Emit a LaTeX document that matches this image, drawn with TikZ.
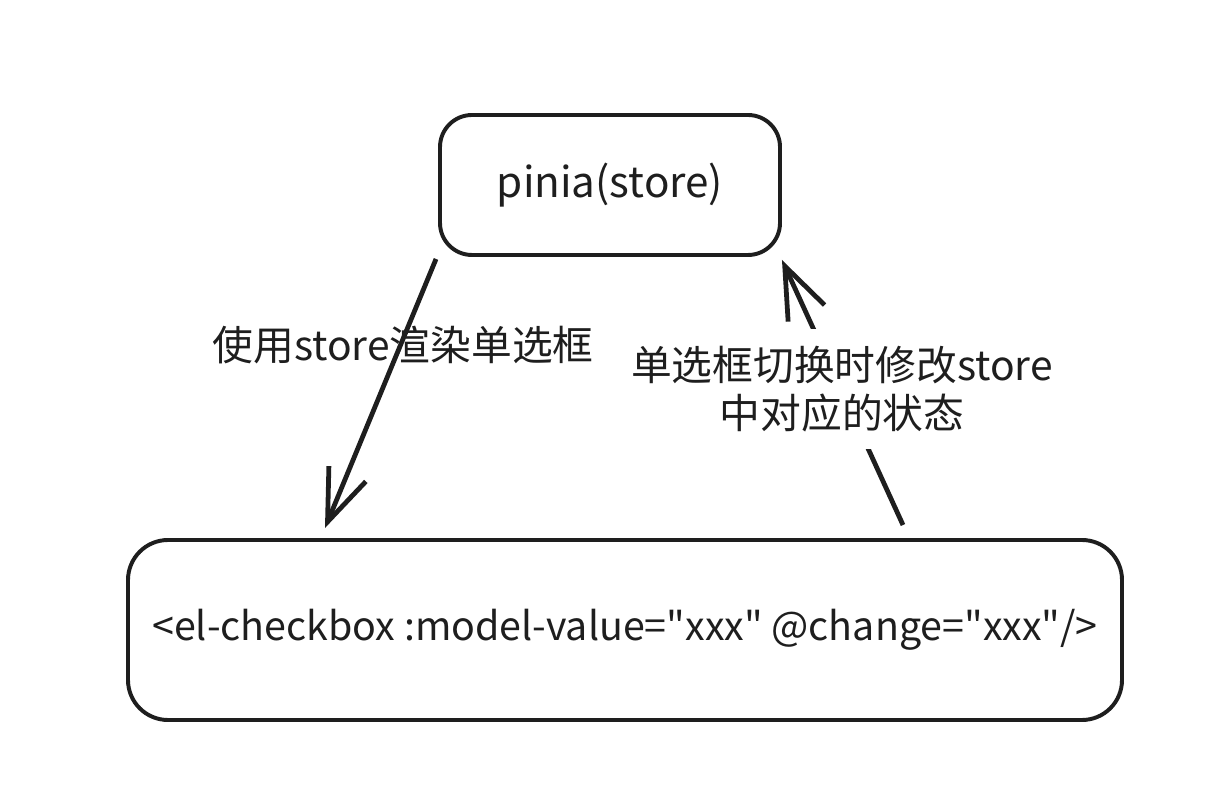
\documentclass[tikz,border=0pt]{standalone}
\usepackage{fontspec}
\newfontfamily\cjk{Noto Sans CJK SC}
\usetikzlibrary{arrows.meta}
\definecolor{ink}{HTML}{1E1E1E}

\begin{document}
\begin{tikzpicture}[
        every node/.style={text=ink, font=\cjk},
        box/.style={draw=ink, line width=2.8pt, rounded corners=0.8cm},
        flow/.style={draw=ink, line width=3.4pt, -{Straight Barb[length=13mm, width=10mm, line width=3.4pt]}},
        note/.style={font=\cjk\fontsize{29}{34}\selectfont, align=center}
    ]
    \useasboundingbox (0,0) rectangle (30.175,20.125);

    \node[box, minimum width=8.5cm, minimum height=3.5cm, font=\cjk\fontsize{30}{36}\selectfont] (store) at (15.25,15.5) {pinia(store)};
    \node[box, minimum width=24.85cm, minimum height=4.5cm, rounded corners=1cm, font=\cjk\fontsize{28}{34}\selectfont] (cb) at (15.625,4.375)
        {<el-checkbox :model-value="xxx" @change="xxx"/>};

    \draw[flow] ([shift={(-0.05,-0.05)}]store.south west) -- ([shift={(-7.5,0.25)}]cb.north);
    \draw[flow] ([shift={(6.95,0.325)}]cb.north) -- ([shift={(0,-0.075)}]store.south east);

    \node[note] (render) at (10.075,11.5) {使用store渲染单选框};
    \node[note, fill=white, inner xsep=2pt, inner ysep=12pt] (update) at (21.05,10.4) {单选框切换时修改store\\中对应的状态};
\end{tikzpicture}
\end{document}
